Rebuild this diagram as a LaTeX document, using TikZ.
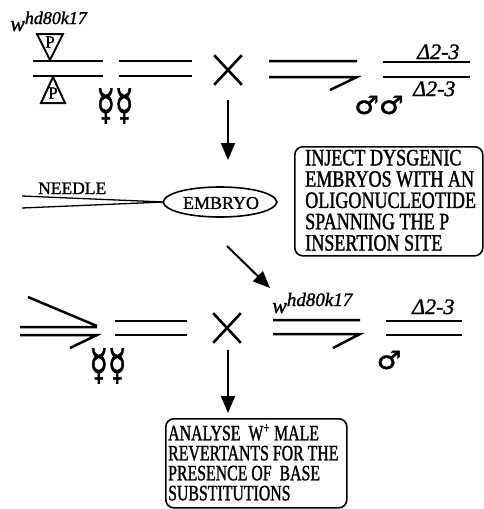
\documentclass[tikz,border=0pt]{standalone}
\usepackage{fontspec}
\setmainfont{Liberation Serif}
\newfontfamily\heavy[FakeBold=1.3]{Liberation Serif}
\newfontfamily\injectfont[FakeStretch=0.77,FakeBold=1.3]{Liberation Serif}
\newfontfamily\analysefont[FakeStretch=0.72,FakeBold=1.3]{Liberation Serif}
\newfontfamily\symfont[FakeBold=1.5]{DejaVu Sans}
\usetikzlibrary{arrows.meta,shapes.misc}
\begin{document}
\begin{tikzpicture}[x=1pt,y=-1pt,
  chrom/.style={line width=2.5pt},
  tri/.style={line width=2pt, line join=miter},
  needleline/.style={line width=1.3pt},
  flow/.style={line width=2pt, -{Triangle[length=17pt,width=14pt]}},
  crossmark/.style={cross out, draw, line width=2.6pt, minimum width=25pt, minimum height=27pt, inner sep=0pt},
  notebox/.style={draw, line width=1.6pt, rounded corners=8pt, anchor=north west, inner sep=0pt},
  notetext/.style={inner sep=0pt, anchor=west, align=left},
  geno/.style={inner sep=0pt, anchor=base west, font=\heavy\fontsize{22}{22}\selectfont\itshape},
  plabel/.style={inner sep=0pt, font=\heavy\fontsize{17}{17}\selectfont},
  sexsym/.style={inner sep=0pt, font=\symfont\fontsize{24}{24}\selectfont},
  caps/.style={inner sep=0pt, font=\heavy\fontsize{18}{18}\selectfont}
]
\useasboundingbox (0,0) rectangle (483,509);

% ---------- parental cross ----------
\node[geno] (wtop) at (10,31) {w\raisebox{7pt}{\fontsize{18}{18}\selectfont hd80k17}};
\draw[tri] (37,34) -- (63,34) -- (50,60) -- cycle;
\node[plabel] (ptop) at (50,42) {P};
\draw[tri] (53,77) -- (65,103) -- (41,103) -- cycle;
\node[plabel] (pbot) at (53,93) {P};
\draw[chrom] (33,61) -- (103,61) (33,76) -- (103,76);
\draw[chrom] (119,61) -- (192,61) (119,76) -- (192,76);
\node[sexsym] (fem1) at (115,106) {\scalebox{1.25}[1.75]{☿☿}};

\node[crossmark] (x1) at (228,70) {};

\draw[chrom] (269,61) -- (357,61) (269,77) -- (357,77) -- (330,90);
\node[sexsym] (male1) at (379,105) {\scalebox{1.15}[1.05]{♂♂}};
\draw[chrom] (383,62) -- (470,62) (383,77) -- (470,77);
\node[geno] (dtop) at (417,59) {Δ2-3};
\node[geno] (dbot) at (413,96) {Δ2-3};

\coordinate (a1s) at (228,100);
\coordinate (a1e) at (228,160);
\draw[flow] (a1s) -- (a1e);

% ---------- injection ----------
\node[caps] (embryo) at (221,203) {EMBRYO};
\draw[line width=1.6pt] (163,202) .. controls (168,182) and (272,182) .. (277,202)
  .. controls (272,222) and (168,222) .. (163,202);
\coordinate (ntip) at (164,202);
\coordinate (nup) at (22,196);
\coordinate (nlow) at (22,208);
\draw[needleline] (nup) -- (ntip) (nlow) -- (ntip);
\node[caps, anchor=base west, font=\heavy\fontsize{17.5}{17.5}\selectfont] (needle) at (38,194) {NEEDLE};

\node[notebox, minimum width=188pt, minimum height=109pt] (inject) at (294,146) {};
\node[notetext, font=\injectfont\fontsize{23.5}{21.3}\selectfont] (injecttext) at ([xshift=11pt,yshift=1pt]inject.west)
  {INJECT DYSGENIC\\EMBRYOS WITH AN\\OLIGONUCLEOTIDE\\SPANNING THE P\\INSERTION SITE};

\coordinate (a2s) at (227,246);
\coordinate (a2e) at (270,288);
\draw[flow] (a2s) -- (a2e);

% ---------- second cross ----------
\draw[chrom] (20,327) -- (97,327) (28,297) -- (97,326) (20,335) -- (97,335) -- (70,348);
\draw[chrom] (115,321) -- (187,321) (115,335) -- (187,335);
\node[sexsym] (fem2) at (108,366) {\scalebox{1.25}[1.75]{☿☿}};

\node[crossmark] (x2) at (227,328) {};

\node[geno] (wbot) at (272,313) {w\raisebox{7pt}{\fontsize{19}{19}\selectfont hd80k17}};
\draw[chrom] (273,320) -- (360,320) (273,334) -- (360,334) -- (333,348);
\draw[chrom] (386,321) -- (462,321) (386,335) -- (462,335);
\node[geno] (d2) at (412,314) {Δ2-3};
\node[sexsym] (male2) at (389,360) {\scalebox{1.15}[1.05]{♂}};

\coordinate (a3s) at (228,350);
\coordinate (a3e) at (228,413);
\draw[flow] (a3s) -- (a3e);

\node[notebox, minimum width=181pt, minimum height=89pt] (analyse) at (165,418) {};
\node[notetext, font=\analysefont\fontsize{22}{20}\selectfont] (analysetext) at ([xshift=3pt,yshift=1pt]analyse.west)
  {ANALYSE~~W\textsuperscript{+} MALE\\REVERTANTS FOR THE\\PRESENCE OF~~BASE\\SUBSTITUTIONS};
\end{tikzpicture}
\end{document}
